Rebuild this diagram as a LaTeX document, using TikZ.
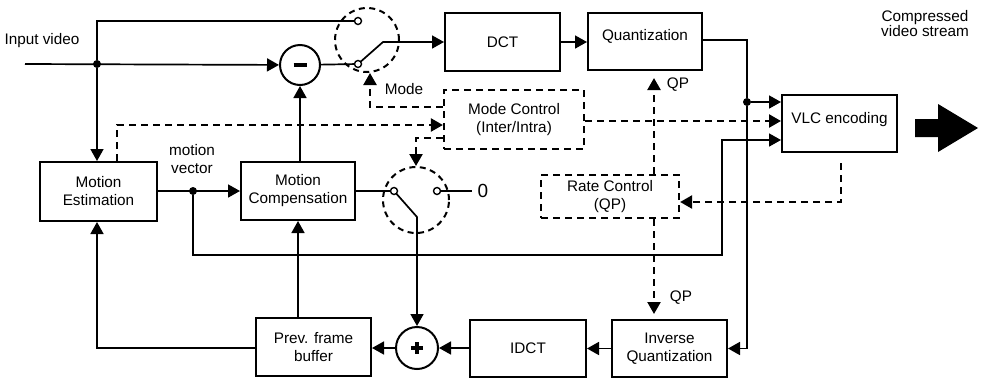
\documentclass[tikz,border=0pt]{standalone}
\usepackage{fontspec}
\setmainfont{Liberation Sans}
\usetikzlibrary{arrows.meta,calc}
\tikzset{
  box/.style={draw, line width=2pt, inner sep=0pt, align=center},
  dbox/.style={draw, line width=2.2pt, dash pattern=on 7pt off 5pt, inner sep=0pt, align=center},
  arr/.style={-{Triangle[length=12pt,width=13pt]}},
  ln/.style={line width=1.7pt},
  dsh/.style={line width=2.3pt, dash pattern=on 7pt off 5pt},
  term/.style={circle, draw, fill=white, inner sep=0pt, minimum size=7pt, line width=1.4pt},
  jdot/.style={circle, fill, inner sep=0pt, minimum size=8pt},
  opcirc/.style={circle, draw, line width=2pt, inner sep=0pt, fill=white},
  swcirc/.style={circle, draw, line width=2pt, dash pattern=on 6pt off 4.5pt, inner sep=0pt},
  txt/.style={inner sep=0pt, align=center},
}
\begin{document}
\begin{tikzpicture}[x=1pt,y=-1pt, every node/.append style={font=\fontsize{15.3}{18}\selectfont}]
\fill[white] (0,0) rectangle (981,381);
\path[use as bounding box] (0,0) rectangle (981,381);

% boxes
\node[box, minimum width=117pt, minimum height=59pt] (me) at (98.5,191.5) {Motion\\Estimation};
\node[box, minimum width=114pt, minimum height=58pt] (mc) at (298,191) {Motion\\Compensation};
\node[box, minimum width=115pt, minimum height=58pt] (dct) at (502.5,42) {DCT};
\node[box, minimum width=114pt, minimum height=57pt] (q) at (645,41.5) {};
\node[txt] (qt) at (645,36) {Quantization};
\node[box, minimum width=115pt, minimum height=57pt] (vlc) at (839.5,123.5) {};
\node[txt] (vlct) at (839.5,120) {VLC encoding};
\node[dbox, minimum width=140pt, minimum height=59pt] (modec) at (514,119.5) {Mode Control\\(Inter/Intra)};
\node[dbox, minimum width=138pt, minimum height=43pt] (rc) at (610,196.5) {Rate Control\\(QP)};
\node[box, minimum width=115pt, minimum height=58pt] (pfb) at (313.5,347) {Prev. frame\\buffer};
\node[box, minimum width=116pt, minimum height=57pt] (idct) at (528,348.5) {IDCT};
\node[box, minimum width=115pt, minimum height=57pt] (iq) at (669.5,348.5) {Inverse\\Quantization};

% circles
\node[opcirc, minimum size=40pt] (minus) at (300,65) {};
\node[opcirc, minimum size=42pt] (plus) at (417,348) {};
\node[swcirc, minimum size=64pt] (sw1) at (367,40) {};
\node[swcirc, minimum size=66pt] (sw2) at (416,200) {};

% coordinates
\coordinate (in) at (25,64);
\coordinate (arm1) at (383,42);
\coordinate (piv2) at (417,217);
\coordinate (zend) at (472,191);
\coordinate (loopc) at (722,255);
\coordinate (rcs) at ($(rc.south)+(44,0)$);
\coordinate (rcn) at ($(rc.north)+(44,0)$);
\coordinate (iqn) at ($(iq.north)+(0,-5)$);

% junction dots
\node[jdot] (j1) at (97,64) {};
\node[jdot] (j2) at (193,191) {};
\node[jdot] (j3) at (747,102) {};

% solid connectors
\draw[ln,arr] (in) -- (minus);
\draw[ln] (j1) |- (358,21) coordinate (s1ac);
\draw[ln,arr] (j1) -- (j1 |- me.north);
\draw[ln] (minus) -- (358,64) coordinate (s1bc);
\draw[ln,arr] (s1bc) -- (arm1) -- (arm1 -| dct.west);
\draw[ln,arr] (dct.east |- arm1) -- (q.west |- arm1);
\draw[ln,arr] ($(q.east)+(0,-1.5)$) -| (j3) -- (j3 |- iq.east) -- (iq.east);
\draw[ln,arr] (j3) -- (j3 -| vlc.west);
\draw[ln,arr] (me.east |- j2) -- (mc.west |- j2);
\draw[ln,arr] (j2) |- (loopc) |- ($(vlc.west)+(0,16.5)$);
\draw[ln,arr] (minus |- mc.north) -- (minus);
\draw[ln] (mc.east |- 394,191) -- (394,191) coordinate (s2ac);
\draw[ln] (437,191) coordinate (s2bc) -- (zend);
\draw[ln,arr] (s2ac) -- (piv2) -- (plus);
\draw[ln,arr] (mc.south |- pfb.north) -- (mc.south);
\draw[ln,arr] ($(pfb.west)+(0,1)$) -| (j1 |- me.south);
\draw[ln,arr] (plus) -- (pfb.east |- plus);
\draw[ln,arr] (idct.west |- plus) -- (plus);
\draw[ln,arr] (iq.west) -- (idct.east);

% terminals
\node[term] (s1a) at (s1ac) {};
\node[term] (s1b) at (s1bc) {};
\node[term] (s2a) at (s2ac) {};
\node[term] (s2b) at (s2bc) {};

% signs
\draw[line width=3.8pt] ($(minus)+(-6.5,0)$) -- ($(minus)+(6.5,0)$);
\draw[line width=3.4pt] ($(plus)+(-6,0)$) -- ($(plus)+(6,0)$);
\draw[line width=3.4pt] ($(plus)+(0,-6)$) -- ($(plus)+(0,6)$);

% dashed connectors
\draw[dsh,arr] ($(me.north)+(18.5,0)$) |- ($(modec.west)+(0,5.5)$);
\draw[dsh,arr] ($(modec.west)+(0,-12.5)$) -| ($(sw1.south)+(3,0)$);
\draw[dsh,arr] ($(modec.west)+(0,18.5)$) -| (sw2.north);
\draw[dsh,arr] ($(modec.east)+(0,1.5)$) -- ($(vlc.west)+(0,-2.5)$);
\draw[dsh,arr] (rcn) -- ($(q.south)+(9,7)$);
\draw[dsh,arr] (rcs) -- (rcs |- iqn);
\draw[dsh,arr] ($(vlc.south)+(1.5,10)$) |- ($(rc.east)+(0,5.5)$);

% big output arrow
\fill (915,119) -- (938,119) -- (938,104) -- (978,128) -- (938,152) -- (938,137) -- (915,137) -- cycle;

% labels
\node[txt] (lin) at (42,41) {Input video};
\node[txt, font=\fontsize{15.3}{15.5}\selectfont] (lout) at (925,23.5) {Compressed\\video stream};
\node[txt] (lmode) at (404,89) {Mode};
\node[txt] (lqp1) at (678,85) {QP};
\node[txt] (lqp2) at (681,298) {QP};
\node[txt] (lmv) at (192,159) {motion\\vector};
\node[txt, font=\fontsize{19}{20}\selectfont] (zero) at (483,191) {0};
\end{tikzpicture}
\end{document}
